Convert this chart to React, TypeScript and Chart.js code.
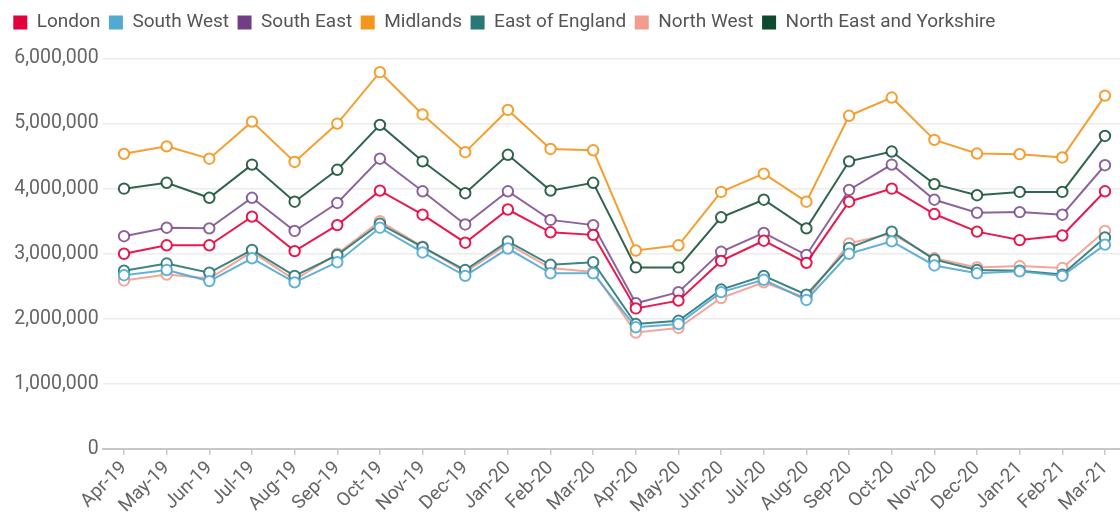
import React, { useEffect, useRef } from 'react';
import { Chart, registerables } from 'chart.js';

Chart.register(...registerables);

const months = ['Apr-19', 'May-19', 'Jun-19', 'Jul-19', 'Aug-19', 'Sep-19', 'Oct-19', 'Nov-19', 'Dec-19', 'Jan-20', 'Feb-20', 'Mar-20', 'Apr-20', 'May-20', 'Jun-20', 'Jul-20', 'Aug-20', 'Sep-20', 'Oct-20', 'Nov-20', 'Dec-20', 'Jan-21', 'Feb-21', 'Mar-21'];

const london = [3000000, 3130000, 3130000, 3570000, 3040000, 3440000, 3970000, 3600000, 3170000, 3680000, 3330000, 3290000, 2160000, 2280000, 2890000, 3200000, 2860000, 3800000, 4000000, 3610000, 3340000, 3210000, 3280000, 3960000];
const southWest = [2670000, 2750000, 2580000, 2930000, 2560000, 2870000, 3400000, 3020000, 2660000, 3080000, 2700000, 2700000, 1870000, 1920000, 2410000, 2600000, 2290000, 3000000, 3190000, 2820000, 2700000, 2730000, 2660000, 3140000];
const southEast = [3270000, 3400000, 3390000, 3860000, 3350000, 3780000, 4460000, 3960000, 3450000, 3960000, 3520000, 3440000, 2240000, 2410000, 3030000, 3320000, 2980000, 3980000, 4370000, 3830000, 3630000, 3640000, 3600000, 4360000];
const midlands = [4535000, 4650000, 4460000, 5030000, 4410000, 5000000, 5790000, 5140000, 4560000, 5210000, 4610000, 4590000, 3050000, 3130000, 3950000, 4230000, 3800000, 5120000, 5400000, 4750000, 4540000, 4530000, 4480000, 5430000];
const eastOfEngland = [2740000, 2850000, 2710000, 3060000, 2660000, 2980000, 3460000, 3100000, 2750000, 3190000, 2830000, 2870000, 1920000, 1970000, 2450000, 2660000, 2370000, 3090000, 3340000, 2910000, 2750000, 2740000, 2680000, 3250000];
const northWest = [2590000, 2680000, 2620000, 3030000, 2600000, 3000000, 3500000, 3110000, 2720000, 3150000, 2780000, 2720000, 1790000, 1860000, 2320000, 2560000, 2320000, 3160000, 3310000, 2930000, 2790000, 2810000, 2780000, 3350000];
const northEastYorkshire = [4000000, 4090000, 3860000, 4370000, 3800000, 4290000, 4980000, 4420000, 3930000, 4520000, 3970000, 4090000, 2790000, 2790000, 3560000, 3830000, 3390000, 4420000, 4570000, 4070000, 3900000, 3950000, 3950000, 4810000];

const seriesNames = ['London', 'South West', 'South East', 'Midlands', 'East of England', 'North West', 'North East and Yorkshire'];
const seriesValues = [london, southWest, southEast, midlands, eastOfEngland, northWest, northEastYorkshire];
const seriesColors = ['#e4003b', '#52a9d1', '#713e86', '#f4951c', '#287874', '#f29c8e', '#0d4a2e'];
const lineColors = ['rgba(228,0,59,0.9)', 'rgba(82,169,209,0.9)', 'rgba(113,62,134,0.8)', 'rgba(244,149,28,0.9)', 'rgba(40,120,116,0.9)', 'rgba(242,156,142,0.9)', 'rgba(13,74,46,0.85)'];

const yTicks = [0, 1000000, 2000000, 3000000, 4000000, 5000000, 6000000];

const font = { family: 'Roboto', size: 19.5 };

const legendSpacer = {
  id: 'legendSpacer',
  beforeUpdate(chart: any) {
    const lg = chart.legend;
    if (lg && !lg._spaced) {
      const orig = lg.fit;
      lg.fit = function () {
        orig.call(this);
        this.height += 16.5;
      };
      lg._spaced = true;
    }
  },
};

export default function App() {
  const ref = useRef<HTMLCanvasElement>(null);

  useEffect(() => {
    if (!ref.current) return;
    const chart = new Chart(ref.current, {
      type: 'line',
      data: {
        labels: months,
        datasets: seriesNames.map((name, i) => ({
          label: name,
          data: seriesValues[i],
          borderColor: lineColors[i],
          backgroundColor: seriesColors[i],
          borderWidth: 2,
          pointRadius: 5.2,
          pointBorderWidth: 2,
          pointBackgroundColor: '#ffffff',
          pointBorderColor: lineColors[i],
          tension: 0,
          fill: false,
        })),
      },
      plugins: [legendSpacer],
      options: {
        responsive: false,
        animation: false,
        layout: { padding: { left: 4.8, top: 4.5, right: 13.7, bottom: 0 } },
        plugins: {
          tooltip: { enabled: false },
          legend: {
            align: 'start',
            labels: {
              boxWidth: 14,
              boxHeight: 14,
              padding: 8.5,
              color: '#555555',
              font: { family: 'Roboto', size: 19 },
              generateLabels: (c: any) =>
                c.data.datasets.map((d: any, i: number) => ({
                  text: d.label,
                  fillStyle: seriesColors[i],
                  strokeStyle: seriesColors[i],
                  lineWidth: 0,
                  hidden: false,
                  datasetIndex: i,
                  fontColor: '#555555',
                })),
            },
          },
        },
        scales: {
          x: {
            offset: true,
            grid: { display: true, drawOnChartArea: false, drawTicks: true, tickLength: 6, color: '#c8c8c8', lineWidth: 1.5 },
            border: { display: true, color: '#c8c8c8', width: 2 },
            ticks: { autoSkip: false, maxRotation: 45, minRotation: 45, color: '#666666', font: { family: 'Roboto', size: 19 }, padding: 2 },
            afterFit: (s: any) => { s.height = 64; },
          },
          y: {
            min: 0,
            max: 6000000,
            afterBuildTicks: (s: any) => { s.ticks = yTicks.map((v) => ({ value: v })); },
            ticks: {
              color: '#666666',
              font,
              padding: 4,
              callback: (v: any) => Number(v).toLocaleString('en-US'),
            },
            grid: { color: '#ececec', lineWidth: 1.5, drawTicks: false },
            border: { display: false },
            afterFit: (s: any) => { s.width = 97.9; },
          },
        },
      },
    } as any);
    return () => chart.destroy();
  }, []);

  return (
    <div style={{ position: 'fixed', left: 0, top: 0, width: 1120, height: 513, overflow: 'hidden', background: '#ffffff' }}>
      <canvas ref={ref} width={1140} height={513} style={{ display: 'block' }} />
    </div>
  );
}
